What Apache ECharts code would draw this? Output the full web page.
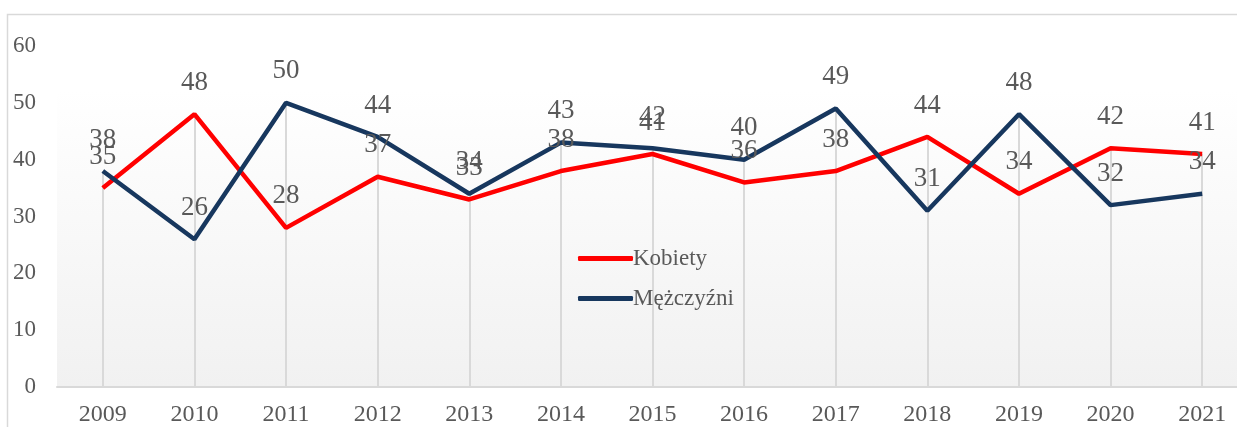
<!DOCTYPE html>
<html>
<head>
<meta charset="utf-8">
<script src="https://cdn.jsdelivr.net/npm/echarts@6/dist/echarts.min.js"></script>
<style>
  html, body { margin: 0; padding: 0; background: #fff; overflow: hidden; }
  #chart { width: 1260px; height: 427px; }
</style>
</head>
<body>
<div id="chart"></div>
<script>
const years = ["2009", "2010", "2011", "2012", "2013", "2014", "2015", "2016", "2017", "2018", "2019", "2020", "2021"];
const kobiety = [35, 48, 28, 37, 33, 38, 41, 36, 38, 44, 34, 42, 41];
const mezczyzni = [38, 26, 50, 44, 34, 43, 42, 40, 49, 31, 48, 32, 34];
const yTicks = { min: 0, max: 60, interval: 10 };

const font = "'Liberation Serif', 'Times New Roman', serif";
const textColor = "#595959";

// drop lines from each point down to the axis
function dropLines(values) {
  return values.map((v, i) => [{ coord: [i, v] }, { coord: [i, 0] }]);
}

function lineSeries(name, values, color) {
  return {
    name: name,
    type: "line",
    data: values,
    symbol: "circle",
    symbolSize: 0,
    z: 3,
    lineStyle: { color: color, width: 4.5 },
    itemStyle: { color: color },
    label: {
      show: true,
      position: "top",
      distance: 18,
      color: textColor,
      fontFamily: font,
      fontSize: 27,
    },
    markLine: {
      silent: true,
      symbol: "none",
      z: 1,
      label: { show: false },
      lineStyle: { color: "#d9d9d9", width: 2, type: "solid" },
      emphasis: { disabled: true },
      data: dropLines(values),
    },
  };
}

const chart = echarts.init(document.getElementById("chart"));
chart.setOption({
  backgroundColor: "#fff",
  animation: false,
  graphic: [
    {
      type: "rect",
      z: -10,
      silent: true,
      shape: { x: 57, y: 90, width: 1200, height: 297 },
      style: {
        fill: new echarts.graphic.LinearGradient(0, 0, 0, 1, [
          { offset: 0, color: "#ffffff" },
          { offset: 1, color: "#f1f1f1" },
        ]),
      },
    },
    {
      type: "rect",
      z: -5,
      silent: true,
      shape: { x: 7.5, y: 14.5, width: 1300, height: 500 },
      style: { fill: "none", stroke: "#d9d9d9", lineWidth: 1.5 },
    },
  ],
  legend: {
    orient: "vertical",
    left: 573,
    top: 242,
    icon: "roundRect",
    itemWidth: 55,
    itemHeight: 5,
    itemGap: 17,
    data: ["Kobiety", "Mężczyźni"],
    textStyle: { color: textColor, fontFamily: font, fontSize: 23, padding: [0, 0, 0, -5] },
  },
  grid: {
    left: 57,
    top: 46,
    right: 12,
    bottom: 40,
    containLabel: false,
  },
  xAxis: {
    type: "category",
    data: years,
    boundaryGap: true,
    axisLine: { lineStyle: { color: "#d9d9d9", width: 2 } },
    axisTick: { show: false },
    axisLabel: { color: textColor, fontFamily: font, fontSize: 24, margin: 16 },
    splitLine: { show: false },
  },
  yAxis: {
    type: "value",
    min: yTicks.min,
    max: yTicks.max,
    interval: yTicks.interval,
    axisLine: { show: false },
    axisTick: { show: false },
    axisLabel: { color: textColor, fontFamily: font, fontSize: 23, margin: 21 },
    splitLine: { show: false },
  },
  series: [
    lineSeries("Kobiety", kobiety, "#ff0000"),
    lineSeries("Mężczyźni", mezczyzni, "#17375e"),
  ],
});
</script>
</body>
</html>
